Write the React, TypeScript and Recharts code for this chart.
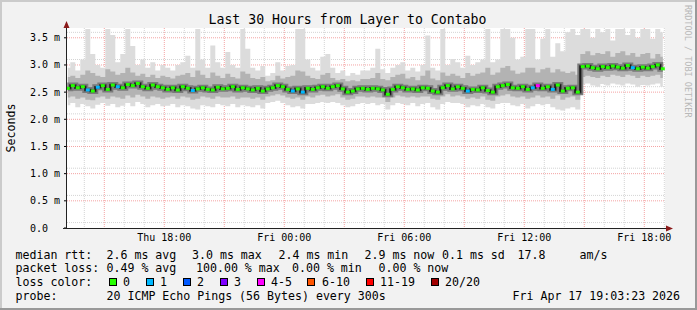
import React from "react";
import {
  ComposedChart,
  Area,
  Line,
  XAxis,
  YAxis,
  CartesianGrid,
} from "recharts";

// 15-minute samples, Thu 13:03 -> Fri 19:03 (hours since Thu 00:00, sample centres)
const sampleTimes = Array.from({ length: 120 }, (_, i) => 13.175 + i * 0.25);

// median rtt (ms)
const medianRtt = [
  2.57, 2.62, 2.58, 2.6, 2.54, 2.52, 2.59, 2.62, 2.55, 2.63, 2.6, 2.58, 2.64, 2.62, 2.66, 2.6, 2.57, 2.63, 2.6, 2.58,
  2.55, 2.58, 2.54, 2.6, 2.57, 2.53, 2.56, 2.58, 2.55, 2.54, 2.59, 2.56, 2.57, 2.6, 2.55, 2.58, 2.56, 2.54, 2.57, 2.52,
  2.56, 2.58, 2.62, 2.6, 2.55, 2.52, 2.56, 2.5, 2.57, 2.55, 2.58, 2.6, 2.57, 2.6, 2.62, 2.56, 2.5, 2.52, 2.56, 2.57,
  2.55, 2.57, 2.56, 2.54, 2.46, 2.55, 2.6, 2.58, 2.55, 2.56, 2.54, 2.58, 2.57, 2.52, 2.5, 2.58, 2.62, 2.56, 2.6, 2.57,
  2.52, 2.55, 2.54, 2.58, 2.53, 2.5, 2.6, 2.62, 2.64, 2.58, 2.57, 2.6, 2.55, 2.58, 2.62, 2.57, 2.6, 2.55, 2.63, 2.52,
  2.57, 2.58, 2.5, 2.97, 2.98, 2.95, 2.93, 2.97, 2.95, 2.98, 2.96, 2.94, 2.99, 2.95, 2.93, 2.96, 2.94, 2.97, 3.0, 2.93,
];

// smoke: fastest / slow-quartile / fast-quartile / slowest ping (ms)
const pingMin = [
  2.26, 2.3, 2.22, 2.28, 2.24, 2.2, 2.27, 2.3, 2.25, 2.28, 2.22, 2.25, 2.3, 2.24, 2.32, 2.28, 2.22, 2.26, 2.28, 2.24,
  2.25, 2.28, 2.22, 2.26, 2.24, 2.2, 2.18, 2.26, 2.24, 2.22, 2.28, 2.26, 2.24, 2.28, 2.22, 2.26, 2.24, 2.22, 2.26, 2.2,
  2.3, 2.32, 2.34, 2.3, 2.26, 2.22, 2.24, 2.2, 2.28, 2.28, 2.3, 2.32, 2.3, 2.32, 2.3, 2.26, 2.22, 2.24, 2.28, 2.3,
  2.28, 2.3, 2.26, 2.28, 2.18, 2.26, 2.3, 2.28, 2.26, 2.3, 2.24, 2.28, 2.3, 2.22, 2.18, 2.28, 2.32, 2.3, 2.3, 2.28,
  2.22, 2.26, 2.24, 2.28, 2.22, 2.2, 2.28, 2.3, 2.3, 2.26, 2.24, 2.28, 2.2, 2.24, 2.28, 2.26, 2.28, 2.22, 2.18, 2.16,
  2.2, 2.22, 2.18, 2.64, 2.66, 2.62, 2.6, 2.65, 2.62, 2.66, 2.64, 2.62, 2.66, 2.64, 2.6, 2.63, 2.62, 2.64, 2.66, 2.6,
];
const pingLow = [
  2.4, 2.42, 2.38, 2.4, 2.36, 2.35, 2.4, 2.42, 2.38, 2.42, 2.4, 2.38, 2.44, 2.4, 2.45, 2.42, 2.38, 2.42, 2.4, 2.38,
  2.4, 2.42, 2.38, 2.42, 2.4, 2.36, 2.38, 2.42, 2.4, 2.38, 2.42, 2.4, 2.4, 2.42, 2.38, 2.4, 2.4, 2.38, 2.4, 2.36,
  2.42, 2.44, 2.46, 2.44, 2.4, 2.38, 2.4, 2.36, 2.42, 2.4, 2.44, 2.45, 2.42, 2.44, 2.46, 2.4, 2.36, 2.38, 2.42, 2.42,
  2.4, 2.42, 2.4, 2.4, 2.32, 2.4, 2.44, 2.42, 2.4, 2.42, 2.4, 2.42, 2.42, 2.38, 2.36, 2.42, 2.46, 2.42, 2.44, 2.42,
  2.38, 2.4, 2.38, 2.42, 2.36, 2.34, 2.42, 2.44, 2.46, 2.42, 2.4, 2.42, 2.38, 2.4, 2.44, 2.4, 2.42, 2.38, 2.44, 2.36,
  2.4, 2.42, 2.36, 2.78, 2.8, 2.78, 2.76, 2.8, 2.78, 2.82, 2.8, 2.78, 2.82, 2.8, 2.76, 2.8, 2.78, 2.8, 2.82, 2.76,
];
const pingHigh = [
  2.78, 2.8, 2.76, 2.82, 2.9, 2.85, 2.8, 2.78, 2.92, 2.88, 2.82, 2.85, 2.95, 2.86, 2.8, 2.84, 2.78, 2.82, 2.76, 2.8,
  2.78, 2.75, 2.8, 2.82, 2.85, 2.78, 2.9, 2.82, 2.76, 2.86, 2.8, 2.76, 2.84, 2.78, 2.75, 2.88, 2.84, 2.76, 2.74, 2.78,
  2.7, 2.72, 2.8, 2.75, 2.78, 2.8, 2.9, 2.88, 2.8, 2.76, 2.74, 2.82, 2.85, 2.76, 2.72, 2.74, 2.7, 2.72, 2.7, 2.74,
  2.74, 2.76, 2.85, 2.74, 2.72, 2.78, 2.82, 2.84, 2.75, 2.78, 2.72, 2.8, 2.9, 2.75, 2.72, 2.86, 2.8, 2.84, 2.8, 2.76,
  2.85, 2.8, 2.84, 2.86, 2.95, 2.82, 2.86, 2.95, 2.98, 2.9, 2.84, 2.86, 2.95, 2.95, 2.86, 2.92, 2.95, 2.86, 2.92, 2.88,
  2.85, 2.88, 2.82, 3.2, 3.25, 3.18, 3.22, 3.2, 3.25, 3.15, 3.22, 3.25, 3.18, 3.22, 3.15, 3.2, 3.22, 3.12, 3.2, 3.15,
];
const pingMax = [
  2.95, 3.05, 2.9, 3.1, 3.66, 3.2, 3.0, 2.95, 3.66, 3.55, 3.05, 3.2, 3.66, 3.35, 3.0, 3.1, 2.95, 3.05, 2.9, 3.0,
  2.95, 2.9, 3.0, 3.05, 3.17, 2.95, 3.66, 3.1, 2.95, 3.36, 3.05, 2.95, 3.24, 3.0, 2.95, 3.66, 3.3, 2.95, 2.9, 2.98,
  2.8, 2.85, 3.05, 2.9, 2.98, 3.0, 3.66, 3.66, 3.1, 2.95, 2.9, 3.15, 3.2, 2.95, 2.85, 2.9, 2.8, 2.85, 2.82, 2.9,
  2.9, 2.95, 3.3, 2.92, 2.85, 2.95, 3.0, 3.05, 2.9, 2.95, 2.88, 3.0, 3.54, 2.95, 2.9, 3.66, 3.0, 3.11, 3.05, 2.95,
  3.17, 3.0, 3.05, 3.1, 3.66, 3.05, 3.1, 3.66, 3.66, 3.5, 3.1, 3.15, 3.66, 3.66, 3.1, 3.48, 3.66, 3.15, 3.4, 3.25,
  3.6, 3.66, 3.55, 3.66, 3.66, 3.5, 3.66, 3.6, 3.66, 3.45, 3.66, 3.66, 3.55, 3.66, 3.5, 3.66, 3.66, 3.48, 3.66, 3.6,
];

// samples with packet loss
const lossOneSamples = [4, 6, 10, 25, 45, 47, 80, 93, 97, 113];
const lossFourFiveSamples = [94];

const yTicks = [0, 0.5, 1, 1.5, 2, 2.5, 3, 3.5];
const xTicks = [18, 24, 30, 36, 42];
const xTickLabels = ["Thu 18:00", "Fri 00:00", "Fri 06:00", "Fri 12:00", "Fri 18:00"];

const minorY = Array.from({ length: 36 }, (_, i) => (i + 1) / 10).filter((v) => Math.round(v * 10) % 5 !== 0);
const majorY = [0.5, 1, 1.5, 2, 2.5, 3, 3.5];
const minorX = Array.from({ length: 30 }, (_, i) => 14 + i).filter((h) => h % 3 !== 0);
const majorX = [15, 18, 21, 24, 27, 30, 33, 36, 39, 42];

const lossLegend = [
  { label: "0", color: "#26ff00", x: 109, tx: 123 },
  { label: "1", color: "#00b8ff", x: 146, tx: 160 },
  { label: "2", color: "#0059ff", x: 183, tx: 197 },
  { label: "3", color: "#7e00ff", x: 220, tx: 234 },
  { label: "4-5", color: "#ff00ff", x: 257, tx: 271 },
  { label: "6-10", color: "#ff5500", x: 307, tx: 322 },
  { label: "11-19", color: "#ff0000", x: 366, tx: 380 },
  { label: "20/20", color: "#a10000", x: 431, tx: 445 },
];

const data = sampleTimes.map((t, i) => ({
  t,
  med: medianRtt[i],
  outer: [pingMin[i], pingMax[i]],
  inner: [pingLow[i], pingHigh[i]],
}));

const mono = "DejaVu Sans Mono";
const legendSize = 11.6;

function lossColor(i: number) {
  if (lossFourFiveSamples.includes(i)) return "#ff00ff";
  if (lossOneSamples.includes(i)) return "#00b8ff";
  return "#26ff00";
}

const MedianDot = (props: any) => {
  const { cx, cy, index } = props;
  if (cx == null || cy == null) return <g key={`d${index}`} />;
  return <rect key={`d${index}`} x={cx - 2} y={cy - 1.5} width={4} height={3} fill={lossColor(index)} />;
};

const YTick = (props: any) => {
  const { y, payload } = props;
  const v = payload.value as number;
  return (
    <text x={30} y={y} dy={3.5} fontSize={10} fontFamily={mono} fill="#000">
      {v === 0 ? "0.0" : `${v.toFixed(1)} m`}
    </text>
  );
};

const row = (y: number, parts: [number, string][]) =>
  parts.map(([x, s], i) => (
    <text key={`${y}-${i}`} x={x} y={y} fontSize={legendSize} fontFamily={mono} fill="#000">
      {s}
    </text>
  ));

export default function App() {
  return (
    <div style={{ position: "absolute", left: 0, top: 0, width: 697, height: 310, background: "#f2f2f2" }}>
      <ComposedChart
        width={697}
        height={310}
        data={data}
        margin={{ top: 28, right: 32, bottom: 62, left: 7 }}
      >
        <CartesianGrid
          fill="#ffffff"
          stroke="#d4d4d4"
          strokeDasharray="1 1"
          horizontalValues={minorY}
          verticalValues={minorX}
        />
        <CartesianGrid
          stroke="#f4a3a3"
          strokeDasharray="1 1"
          horizontalValues={majorY}
          verticalValues={majorX}
        />
        <XAxis
          dataKey="t"
          type="number"
          domain={[13.135, 43.035]}
          ticks={xTicks}
          tickFormatter={(v: number) => xTickLabels[xTicks.indexOf(v)] ?? ""}
          axisLine={false}
          tickLine={false}
          tickSize={3}
          tickMargin={3}
          height={20}
          tick={{ fontSize: 10, fontFamily: mono, fill: "#000" }}
          allowDataOverflow
        />
        <YAxis
          type="number"
          domain={[0, 3.68]}
          ticks={yTicks}
          width={60}
          axisLine={false}
          tickLine={{ stroke: "#000" }}
          tickSize={3}
          tick={<YTick />}
          allowDataOverflow
        />
        <Area
          type="step"
          dataKey="outer"
          stroke="none"
          fill="#dcdcdc"
          fillOpacity={1}
          isAnimationActive={false}
        />
        <Area
          type="step"
          dataKey="inner"
          stroke="none"
          fill="#b3b3b3"
          fillOpacity={1}
          isAnimationActive={false}
        />
        <Line type="step" dataKey="med" stroke="#7a7a7a" strokeWidth={6} dot={false} isAnimationActive={false} />
        <Line type="step" dataKey="med" stroke="#333" strokeWidth={2.5} dot={false} isAnimationActive={false} />
        <Line
          type="step"
          dataKey="med"
          stroke="#111"
          strokeWidth={1}
          dot={MedianDot}
          activeDot={false}
          isAnimationActive={false}
        />
      </ComposedChart>

      <svg
        width={697}
        height={310}
        style={{ position: "absolute", left: 0, top: 0, pointerEvents: "none" }}
      >
        {/* frame */}
        <line x1={0} y1={1} x2={697} y2={1} stroke="#cbcbcb" strokeWidth={2} />
        <line x1={1} y1={0} x2={1} y2={310} stroke="#cbcbcb" strokeWidth={2} />
        <line x1={0} y1={309} x2={697} y2={309} stroke="#999" strokeWidth={2} />
        <line x1={696} y1={0} x2={696} y2={310} stroke="#999" strokeWidth={2} />

        {/* axes */}
        <line x1={66.5} y1={24} x2={66.5} y2={228.5} stroke="#222" strokeWidth={1} />
        <line x1={63} y1={228.5} x2={669} y2={228.5} stroke="#222" strokeWidth={1} />
        <polygon points="63.5,28 66.5,21 69.5,28" fill="#8b1a1a" />
        <polygon points="666,225.5 673,228.5 666,231.5" fill="#8b1a1a" />

        <text x={347.5} y={24} textAnchor="middle" fontSize={13.2} fontFamily={mono} fill="#000">
          Last 30 Hours from Layer to Contabo
        </text>
        <text
          x={0}
          y={0}
          transform="translate(15 128) rotate(-90)"
          textAnchor="middle"
          fontSize={legendSize}
          fontFamily={mono}
          fill="#000"
        >
          Seconds
        </text>
        <text
          x={0}
          y={0}
          transform="translate(684.5 5) rotate(90)"
          fontSize={8.5}
          fontFamily={mono}
          fill="#b8b8b8"
        >
          RRDTOOL / TOBI OETIKER
        </text>

        {row(258.5, [
          [15.5, "median rtt:"],
          [106.5, "2.6 ms avg"],
          [192, "3.0 ms max"],
          [278.5, "2.4 ms min"],
          [364.5, "2.9 ms now"],
          [442, "0.1 ms sd"],
          [517.5, "17.8"],
          [579.5, "am/s"],
        ])}
        {row(272, [
          [15.5, "packet loss:"],
          [106.5, "0.49 % avg"],
          [196, "100.00 % max"],
          [292, "0.00 % min"],
          [378.5, "0.00 % now"],
        ])}
        {row(285.8, [[15.5, "loss color:"]])}
        {lossLegend.map((l) => (
          <g key={l.label}>
            <rect x={l.x + 0.5} y={278.5} width={7} height={7} fill={l.color} stroke="#000" strokeWidth={1} />
            <text x={l.tx} y={285.8} fontSize={legendSize} fontFamily={mono} fill="#000">
              {l.label}
            </text>
          </g>
        ))}
        {row(299.5, [
          [15.5, "probe:"],
          [106.5, "20 ICMP Echo Pings (56 Bytes) every 300s"],
          [512.5, "Fri Apr 17 19:03:23 2026"],
        ])}
      </svg>
    </div>
  );
}
